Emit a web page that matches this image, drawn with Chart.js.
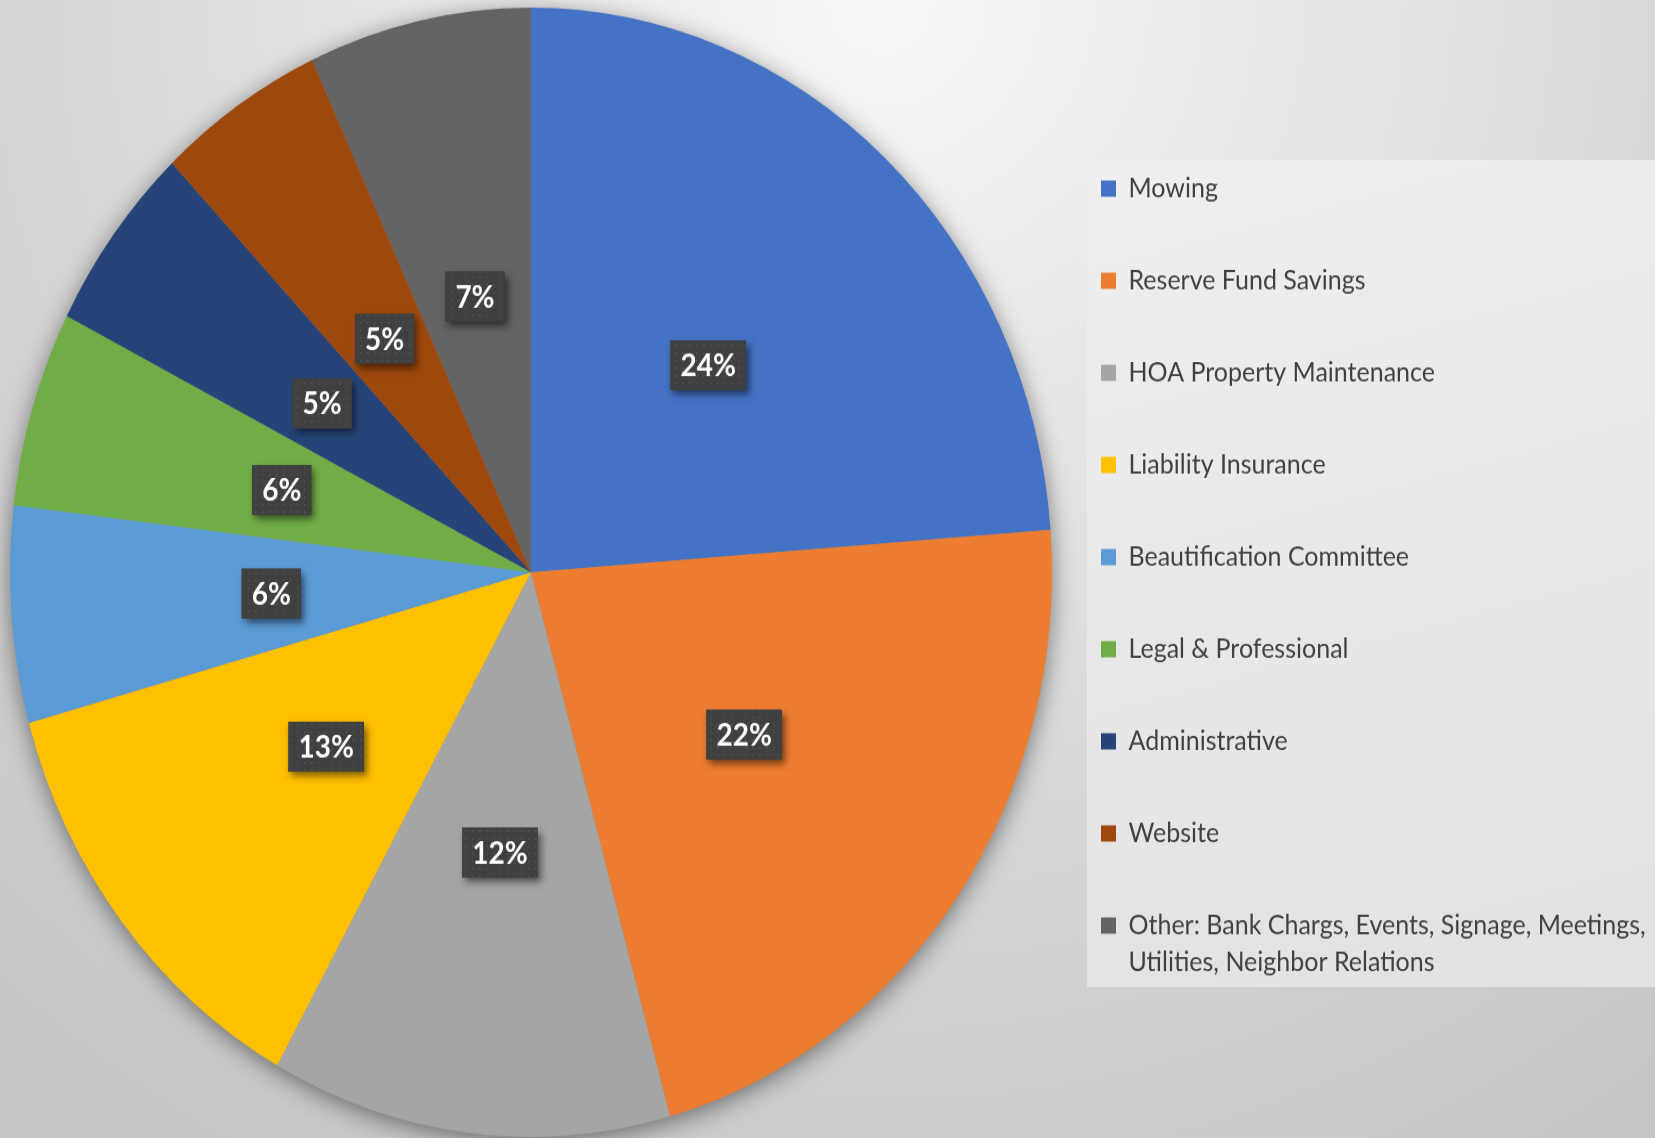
<!DOCTYPE html>
<html>
<head>
<meta charset="utf-8">
<script src="https://cdn.jsdelivr.net/npm/chart.js@4.4.1/dist/chart.umd.min.js"></script>
<style>
  html, body { margin: 0; padding: 0; }
  body {
    width: 1655px; height: 1138px; overflow: hidden; position: relative;
    background: radial-gradient(circle at 880px 0px, #f8f8f8 0px, #e9e9e9 380px, #d6d6d6 820px, #c6c6c6 1350px);
  }
  #legendPanel {
    position: absolute; left: 1087px; top: 160px; width: 568px; height: 827px;
    background: linear-gradient(165deg, #efefef 0%, #e8e8e8 50%, #e1e1e1 100%);
  }
  #wrap {
    position: absolute; left: 0; top: 0; width: 1655px; height: 1050px;
    transform: scaleY(1.0838); transform-origin: 0 0;
  }
</style>
</head>
<body>
<div id="legendPanel"></div>
<div id="wrap"><canvas id="budgetPie" width="1655" height="1050"></canvas></div>
<script>
// Budget categories and their share of the total (%)
const categories = [
  'Mowing',
  'Reserve Fund Savings',
  'HOA Property Maintenance',
  'Liability Insurance',
  'Beautification Committee',
  'Legal & Professional',
  'Administrative',
  'Website',
  ['Other: Bank Chargs, Events, Signage, Meetings,', 'Utilities, Neighbor Relations']
];
const shares = [23.8, 21.9, 12.4, 12.6, 6.2, 5.6, 5.4, 5.2, 6.9];
const sliceColors = ['#4472C4', '#ED7D31', '#A5A5A5', '#FFC000', '#5B9BD5', '#70AD47', '#264478', '#9E480E', '#636363'];

// width the legend block should take on the right
const LEGEND_W = 614;

// soft shadow under the whole pie
const pieShadow = {
  id: 'pieShadow',
  beforeDatasetsDraw(chart) {
    const arc = chart.getDatasetMeta(0).data[0];
    if (!arc) return;
    const ctx = chart.ctx;
    ctx.save();
    ctx.shadowColor = 'rgba(0, 0, 0, 0.5)';
    ctx.shadowBlur = 24;
    ctx.shadowOffsetY = 5;
    ctx.beginPath();
    ctx.arc(arc.x, arc.y, arc.outerRadius - 1, 0, Math.PI * 2);
    ctx.fillStyle = '#888888';
    ctx.fill();
    ctx.restore();
  }
};

// dotted dark tile for the value labels
function makeDotPattern(ctx) {
  const tile = document.createElement('canvas');
  tile.width = 7;
  tile.height = 7;
  const t = tile.getContext('2d');
  t.fillStyle = '#404040';
  t.fillRect(0, 0, 7, 7);
  t.fillStyle = '#555555';
  t.fillRect(3, 3, 1.5, 1.5);
  return ctx.createPattern(tile, 'repeat');
}

// percent labels in dark boxes at the middle of each slice
const valueLabels = {
  id: 'valueLabels',
  afterDatasetsDraw(chart) {
    const ctx = chart.ctx;
    const values = chart.data.datasets[0].data;
    const total = values.reduce((a, b) => a + b, 0);
    const pattern = makeDotPattern(ctx);
    ctx.save();
    ctx.font = 'bold 28px Lato';
    chart.getDatasetMeta(0).data.forEach((arc, i) => {
      const pos = arc.tooltipPosition();
      const txt = Math.round(values[i] / total * 100) + '%';
      const w = ctx.measureText(txt).width + 20;
      const h = 46;
      const x = pos.x - w / 2;
      const y = pos.y - h / 2;
      ctx.save();
      ctx.shadowColor = 'rgba(0, 0, 0, 0.55)';
      ctx.shadowBlur = 7;
      ctx.shadowOffsetX = 3;
      ctx.shadowOffsetY = 4;
      ctx.fillStyle = '#404040';
      ctx.fillRect(x, y, w, h);
      ctx.restore();
      ctx.fillStyle = pattern;
      ctx.fillRect(x, y, w, h);
      ctx.fillStyle = '#ffffff';
      ctx.textAlign = 'center';
      ctx.textBaseline = 'middle';
      ctx.fillText(txt, pos.x, pos.y + 1);
    });
    ctx.restore();
  }
};

const chart = new Chart(document.getElementById('budgetPie'), {
  type: 'pie',
  data: {
    labels: categories,
    datasets: [{
      data: shares,
      backgroundColor: sliceColors,
      borderWidth: 0,
      radius: 521,
      clip: false
    }]
  },
  options: {
    responsive: false,
    devicePixelRatio: 1,
    animation: false,
    layout: {
      padding: { top: 7, bottom: 1, left: 21, right: 0 }
    },
    plugins: {
      tooltip: { enabled: false },
      legend: {
        position: 'right',
        align: 'center',
        maxWidth: LEGEND_W,
        title: { display: true, text: '', padding: 0, font: { size: 15, lineHeight: 1 } },
        labels: {
          boxWidth: 15,
          boxHeight: 15,
          padding: 60,
          color: '#404040',
          font: { family: 'Lato', size: 25, lineHeight: 1.36 }
        }
      }
    }
  },
  plugins: [pieShadow, valueLabels]
});

// keep the legend block at a fixed width so the pie sits where it should
const extra = Math.max(0, LEGEND_W - chart.legend.width);
if (extra > 0) {
  chart.options.layout.padding.right = extra;
  chart.update();
}
</script>
</body>
</html>
